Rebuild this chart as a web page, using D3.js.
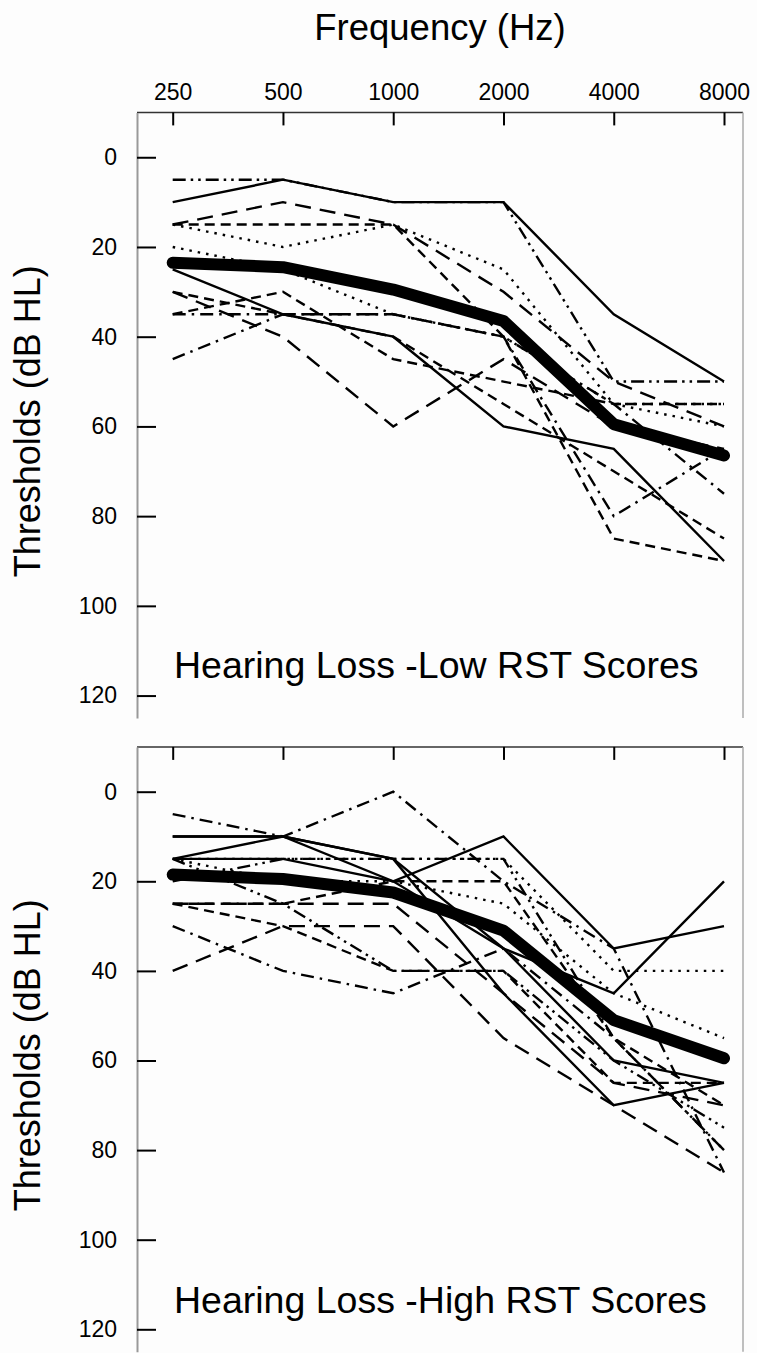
<!DOCTYPE html>
<html>
<head>
<meta charset="utf-8">
<script src="https://cdn.jsdelivr.net/npm/d3@7"></script>
<style>
  html, body { margin: 0; padding: 0; background: #fdfdfd; }
  svg { display: block; }
  text { font-family: "Liberation Sans", Arial, sans-serif; fill: #000; }
</style>
</head>
<body>
<svg id="chart" width="757" height="1353"></svg>
<script>
// ---------------- DATA ----------------
const frequencies = [250, 500, 1000, 2000, 4000, 8000];
const freqLabels = ["250", "500", "1000", "2000", "4000", "8000"];
const yTickValues = [0, 20, 40, 60, 80, 100, 120];

const xTitle = "Frequency (Hz)";
const yTitle = "Thresholds (dB HL)";
const lowTitle = "Hearing Loss -Low RST Scores";
const highTitle = "Hearing Loss -High RST Scores";

// Low RST group: individual audiograms (dB HL)
const low01 = [10, 5, 10, 10, 35, 50];
const low02 = [5, 5, 10, 10, 50, 50];
const low03 = [15, 10, 15, 30, 50, 60];
const low04 = [15, 15, 15, 40, 85, 90];
const low05 = [15, 20, 15, 25, 55, 60];
const low06 = [20, 25, 35, 40, 55, 55];
const low07 = [25, 35, 40, 60, 65, 90];
const low08 = [35, 35, 35, 40, 80, 65];
const low09 = [45, 35, 35, 40, 55, 75];
const low10 = [30, 40, 60, 45, 60, 65];
const low11 = [35, 30, 45, 50, 55, 55];
const low12 = [30, 35, 40, 55, 70, 85];
const lowMean = [23.5, 24.5, 29.5, 36.5, 59.5, 66.5];
const lowSeries = [low01, low02, low03, low04, low05, low06, low07, low08, low09, low10, low11, low12];
const lowStyleKeys = ["solid", "dashdotdot", "longdash", "dash", "dot", "dot", "solid", "dashdot", "dashdot", "longdash", "dash", "dash"];

// High RST group
const high01 = [5, 10, 0, 20, 35, 85];
const high02 = [10, 10, 15, 35, 45, 20];
const high03 = [15, 10, 20, 10, 35, 30];
const high04 = [15, 15, 20, 35, 60, 65];
const high05 = [15, 15, 15, 15, 40, 40];
const high06 = [15, 20, 20, 25, 45, 55];
const high07 = [25, 25, 20, 20, 55, 70];
const high08 = [40, 30, 30, 55, 70, 85];
const high09 = [25, 30, 40, 40, 65, 65];
const high10 = [30, 40, 45, 35, 55, 80];
const high11 = [15, 25, 40, 40, 60, 75];
const high12 = [25, 25, 25, 45, 65, 70];
const high13 = [20, 15, 15, 15, 55, 80];
const high14 = [10, 10, 15, 45, 70, 65];
const highMean = [18.5, 19.5, 22.5, 31, 51, 59.5];
const highSeries = [high01, high02, high03, high04, high05, high06, high07, high08, high09, high10, high11, high12, high13, high14];
const highStyleKeys = ["dashdot", "solid", "solid", "solid", "dot", "dot", "dash", "longdash", "dash", "dashdot", "dashdotdot", "longdash", "dashdotdot", "solid"];

// ---------------- STYLE ----------------
const dashStyles = {
  solid: null,
  dash: "10,6",
  longdash: "16,9",
  dot: "2.5,6",
  dashdot: "13,6,2.5,6",
  dashdotdot: "13,5,2.5,5,2.5,5"
};

const plotLeft = 137, plotRight = 743;
const panels = [
  { top: 112.4, bottom: 718, series: lowSeries, styles: lowStyleKeys, mean: lowMean, title: lowTitle, titleY: 678, showX: true },
  { top: 746.9, bottom: 1351.7, series: highSeries, styles: highStyleKeys, mean: highMean, title: highTitle, titleY: 1313, showX: false }
];

const svg = d3.select("#chart");

const x = d3.scaleLog().base(2).domain([250, 8000]).range([172.7, 724]);

svg.append("text")
  .attr("x", 440).attr("y", 40)
  .attr("text-anchor", "middle")
  .style("font-size", "36.5px")
  .text(xTitle);

panels.forEach(p => {
  const y = d3.scaleLinear().domain([-10, 125]).range([p.top, p.bottom]);
  const g = svg.append("g");

  // frame: top, right
  g.append("line").attr("x1", plotLeft).attr("x2", plotRight).attr("y1", p.top).attr("y2", p.top)
    .attr("stroke", "#333").attr("stroke-width", 1.5);
  g.append("line").attr("x1", plotRight).attr("x2", plotRight).attr("y1", p.top).attr("y2", p.bottom)
    .attr("stroke", "#aaa").attr("stroke-width", 1.5);

  // y axis
  const yAxis = d3.axisLeft(y).tickValues(yTickValues).tickSizeInner(-19).tickSizeOuter(0).tickPadding(20);
  const ya = g.append("g").attr("transform", `translate(${plotLeft},0)`).call(yAxis);
  ya.select(".domain").attr("stroke", "#999").attr("stroke-width", 2);
  ya.selectAll(".tick line").attr("stroke", "#000").attr("stroke-width", 2);
  ya.selectAll(".tick text").style("font-size", "23px").attr("font-family", null).attr("fill", "#000");

  // x axis at top
  const xAxis = d3.axisTop(x).tickValues(frequencies)
    .tickFormat((d, i) => p.showX ? freqLabels[i] : "")
    .tickSizeInner(-13).tickSizeOuter(0).tickPadding(12);
  const xa = g.append("g").attr("transform", `translate(0,${p.top})`).call(xAxis);
  xa.select(".domain").remove();
  xa.selectAll(".tick line").attr("stroke", "#000").attr("stroke-width", 2);
  xa.selectAll(".tick text").style("font-size", "23px").attr("font-family", null).attr("fill", "#000");

  // y title
  const cy = (p.top + p.bottom) / 2 + 6;
  g.append("text")
    .attr("transform", `translate(40,${cy}) rotate(-90)`)
    .attr("text-anchor", "middle")
    .style("font-size", "36px")
    .text(yTitle);

  // lines
  const line = d3.line().x((d, i) => x(frequencies[i])).y(d => y(d));
  g.selectAll("path.subj").data(p.series).enter().append("path")
    .attr("class", "subj")
    .attr("d", d => line(d))
    .attr("fill", "none")
    .attr("stroke", "#000")
    .attr("stroke-width", 2.4)
    .attr("stroke-linejoin", "miter")
    .attr("stroke-dasharray", (d, i) => dashStyles[p.styles[i]]);

  g.append("path")
    .attr("d", line(p.mean))
    .attr("fill", "none")
    .attr("stroke", "#000")
    .attr("stroke-width", 12)
    .attr("stroke-linecap", "round")
    .attr("stroke-linejoin", "round");

  // panel label
  g.append("text")
    .attr("x", 174).attr("y", p.titleY)
    .style("font-size", "37.5px")
    .text(p.title);
});
</script>
</body>
</html>
